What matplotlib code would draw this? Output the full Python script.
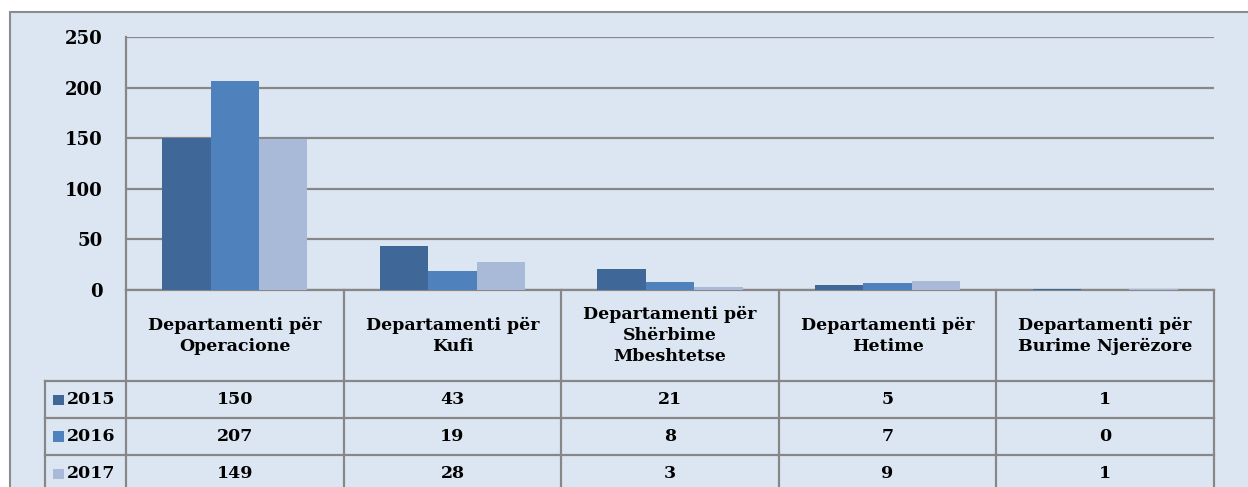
import numpy as np
import matplotlib.pyplot as plt
from matplotlib.patches import Rectangle

categories = ["Departamenti për\nOperacione", "Departamenti për\nKufi",
              "Departamenti për\nShërbime\nMbeshtetse", "Departamenti për\nHetime",
              "Departamenti për\nBurime Njerëzore"]
years = ["2015", "2016", "2017"]
v2015 = [150, 43, 21, 5, 1]
v2016 = [207, 19, 8, 7, 0]
v2017 = [149, 28, 3, 9, 1]
colors = ["#3F6797", "#4F81BD", "#A9B9D8"]

W, H = 1248, 487
bg = "#DCE6F2"
gray = "#878787"
font = dict(family="DejaVu Serif", weight="bold", size=12.5)

def fx(px):
    return px / W

def fy(py):
    return 1 - py / H

fig = plt.figure(figsize=(W / 100, H / 100), dpi=100)
fig.patch.set_facecolor("white")
fig.patches.append(Rectangle((fx(10), fy(500)), 1.1, fy(12) - fy(500), transform=fig.transFigure,
                             facecolor=bg, edgecolor="#8C8C8C", lw=1.5, zorder=-5))

left, right, top, bottom = 126, 1214, 37, 290
ax = fig.add_axes([fx(left), fy(bottom), fx(right - left), fy(top) - fy(bottom)])
ax.set_facecolor(bg)

x = np.arange(len(categories))
bw = 0.667 / 3
for i, (vals, c) in enumerate(zip([v2015, v2016, v2017], colors)):
    ax.bar(x + (i - 1) * bw, vals, bw, color=c, zorder=3)

ax.set_xlim(-0.5, len(categories) - 0.5)
ax.set_ylim(0, 250)
ax.set_yticks(range(0, 251, 50))
ax.yaxis.grid(True, color=gray, lw=1.6, zorder=0)
ax.set_axisbelow(True)
ax.tick_params(axis="y", length=0, pad=17)
ax.tick_params(axis="x", length=0, labelbottom=False)
for lab in ax.get_yticklabels():
    lab.set_fontfamily("DejaVu Serif")
    lab.set_fontweight("bold")
    lab.set_fontsize(13)
for s in ["top", "right"]:
    ax.spines[s].set_visible(False)
for s in ["left", "bottom"]:
    ax.spines[s].set_color(gray)
    ax.spines[s].set_linewidth(1.6)

# data table under the chart
head_bot = 381
row_h = 37
rows_y = [head_bot + k * row_h for k in range(4)]
col_edges = [left + k * (right - left) / len(categories) for k in range(len(categories) + 1)]
lkw = dict(color=gray, lw=1.6, transform=fig.transFigure, clip_on=False)

for xe in col_edges:
    fig.add_artist(plt.Line2D([fx(xe), fx(xe)], [fy(bottom), fy(500)], **lkw))
fig.add_artist(plt.Line2D([fx(45), fx(45)], [fy(head_bot), fy(500)], **lkw))
for yr in rows_y:
    fig.add_artist(plt.Line2D([fx(45), fx(right)], [fy(yr), fy(yr)], **lkw))

for k, cat in enumerate(categories):
    cx = (col_edges[k] + col_edges[k + 1]) / 2
    fig.text(fx(cx), fy((bottom + head_bot) / 2), cat, ha="center", va="center",
             linespacing=1.3, **font)
    for r, vals in enumerate([v2015, v2016, v2017]):
        fig.text(fx(cx), fy(rows_y[r] + row_h / 2), str(vals[k]), ha="center", va="center", **font)

for r, (yr, c) in enumerate(zip(years, colors)):
    cy = rows_y[r] + row_h / 2
    fig.patches.append(Rectangle((fx(53), fy(cy + 5)), fx(11), fy(cy - 5) - fy(cy + 5),
                                 transform=fig.transFigure, facecolor=c, edgecolor="none"))
    fig.text(fx(67), fy(cy), yr, ha="left", va="center", **font)

fig.savefig("out.png", dpi=100, facecolor="white")
